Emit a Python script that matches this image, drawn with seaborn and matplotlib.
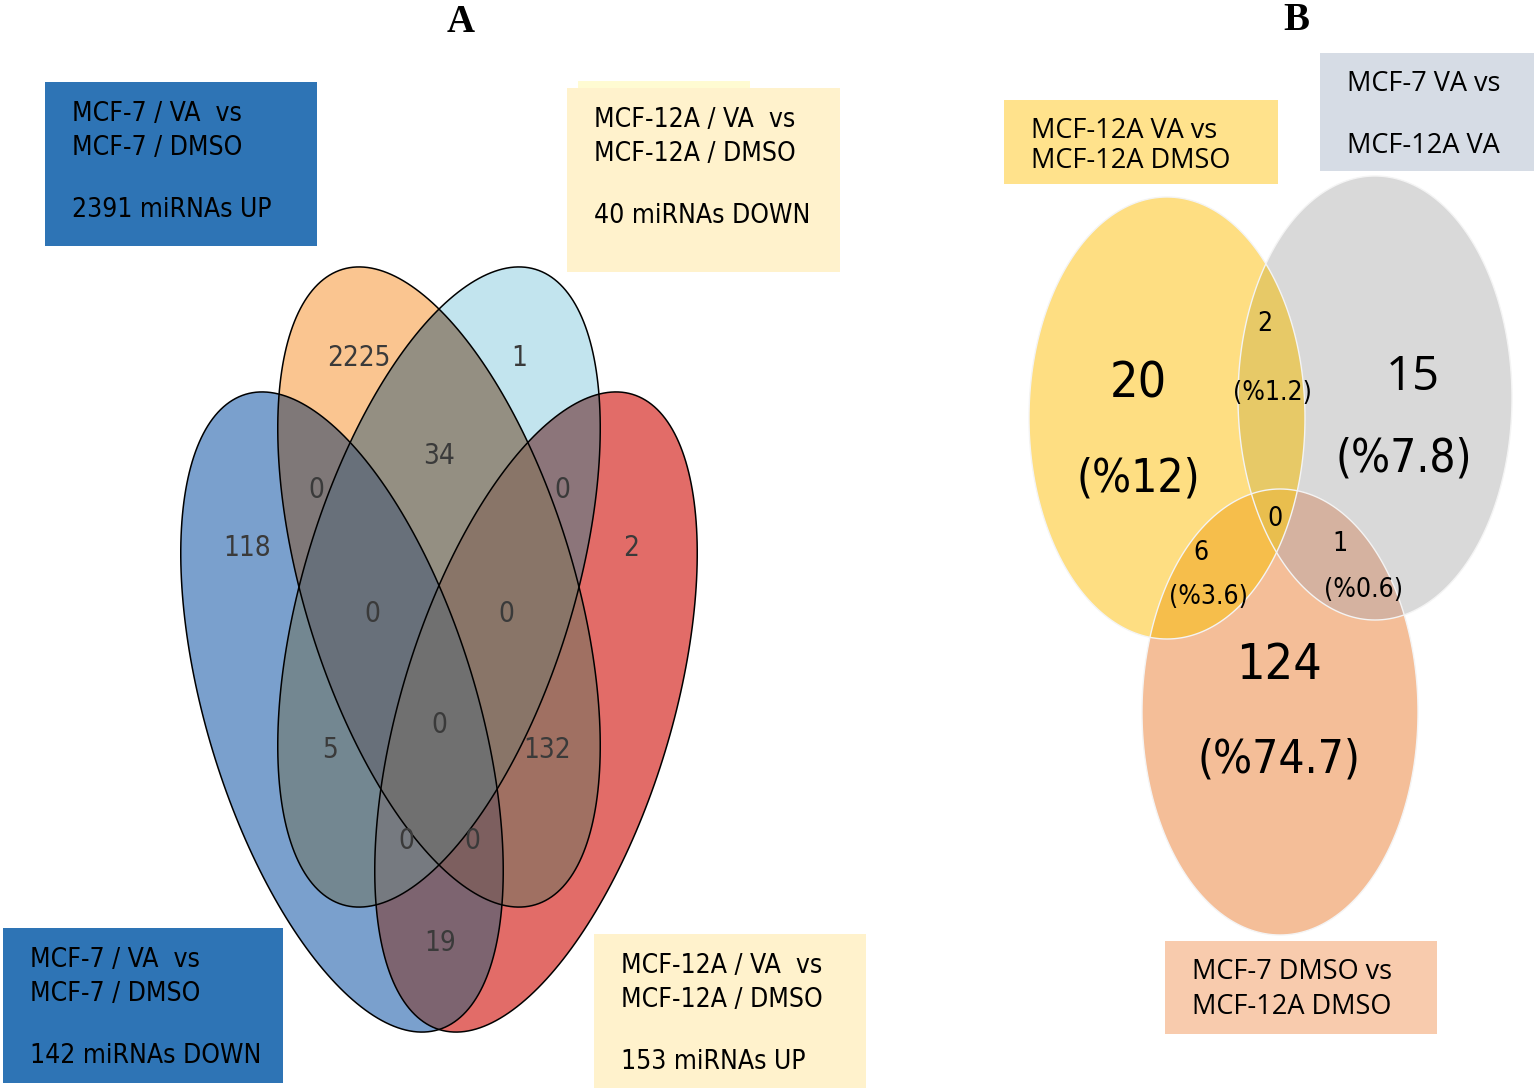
import numpy as np
import matplotlib
matplotlib.use('Agg')
import matplotlib.pyplot as plt
import seaborn as sns
from matplotlib.patches import Polygon, Rectangle
from itertools import combinations

# %% data

# panel A: four-set venn, region name -> count
venn_a_regions = ['B', 'C', 'BC', 'AB', 'CD', 'A', 'D', 'ABC', 'BCD',
                  'ABCD', 'AC', 'BD', 'ACD', 'ABD', 'AD']
venn_a_counts = [2225, 1, 34, 0, 0, 118, 2, 0, 0, 0, 5, 132, 0, 0, 19]

# set boxes for panel A
box_a_titles = ['MCF-7 / VA  vs\nMCF-7 / DMSO', 'MCF-12A / VA  vs\nMCF-12A / DMSO',
                'MCF-7 / VA  vs\nMCF-7 / DMSO', 'MCF-12A / VA  vs\nMCF-12A / DMSO']
box_a_counts = [2391, 40, 142, 153]
box_a_dir = ['UP', 'DOWN', 'DOWN', 'UP']

# panel B: three-set venn
venn_b_regions = ['Y', 'G', 'S', 'YG', 'YS', 'GS', 'YGS']
venn_b_counts = [20, 15, 124, 2, 6, 1, 0]
venn_b_pct = ['12', '7.8', '74.7', '1.2', '3.6', '0.6', None]
box_b_labels = ['MCF-12A VA vs\nMCF-12A DMSO', 'MCF-7 VA vs\n\nMCF-12A VA',
                'MCF-7 DMSO vs\nMCF-12A DMSO']

# %% style
sns.set_theme(style='white')
plt.rcParams['font.family'] = ['DejaVu Sans']
NARROW = dict(family='DejaVu Sans', fontstretch='condensed')
WIDE = dict(family=['Open Sans', 'DejaVu Sans'])


def ellipse_pts(cx, cy, p, q, ang, n=240):
    t = np.linspace(0, 2 * np.pi, n, endpoint=False)
    c, s = np.cos(np.radians(ang)), np.sin(np.radians(ang))
    x = cx + p * np.cos(t) * c - q * np.sin(t) * s
    y = cy + p * np.cos(t) * s + q * np.sin(t) * c
    return np.column_stack([x, y])


def clip_convex(subject, clip):
    # Sutherland-Hodgman, clip polygon is convex
    area = np.sum(clip[:, 0] * np.roll(clip[:, 1], -1) - np.roll(clip[:, 0], -1) * clip[:, 1])
    sign = 1 if area > 0 else -1
    out = list(subject)
    n = len(clip)
    for i in range(n):
        if not out:
            break
        a, b = clip[i], clip[(i + 1) % n]
        d = b - a

        def side(p):
            return sign * (d[0] * (p[1] - a[1]) - d[1] * (p[0] - a[0]))

        inp, out = out, []
        s = inp[-1]
        ss = side(s)
        for e in inp:
            se = side(e)
            if se >= 0:
                if ss < 0:
                    out.append(s + (e - s) * (ss / (ss - se)))
                out.append(e)
            elif ss >= 0:
                out.append(s + (e - s) * (ss / (ss - se)))
            s, ss = e, se
    return np.array(out)


def draw_venn(ax, shapes, colors, edge, lw):
    names = list(shapes.keys())
    for k in range(1, len(names) + 1):
        for combo in combinations(names, k):
            poly = shapes[combo[0]]
            for other in combo[1:]:
                poly = clip_convex(poly, shapes[other])
                if len(poly) < 3:
                    break
            if len(poly) >= 3:
                ax.add_patch(Polygon(poly, closed=True, facecolor=colors[''.join(combo)],
                                     edgecolor='none', lw=0, zorder=1))
    for nm in names:
        ax.add_patch(Polygon(shapes[nm], closed=True, fill=False, edgecolor=edge,
                             lw=lw, zorder=2))


fig = plt.figure(figsize=(15.34, 10.92), dpi=100)
ax = fig.add_axes([0, 0, 1, 1])
ax.set_xlim(0, 1534)
ax.set_ylim(1092, 0)
ax.axis('off')

# %% panel A
shapes_a = {
    'A': ellipse_pts(342, 712, 332, 135, 73.1),
    'B': ellipse_pts(439, 587, 332, 135, 73.1),
    'C': ellipse_pts(439, 587, 332, 135, 106.9),
    'D': ellipse_pts(536, 712, 332, 135, 106.9),
}
colors_a = {'A': '#7AA0CD', 'B': '#FAC590', 'C': '#C2E4EE', 'D': '#E26C68',
            'AB': '#7F7878', 'AC': '#738791', 'AD': '#7D6470', 'BC': '#948F82',
            'BD': '#A07062', 'CD': '#8C757A', 'ABC': '#68707A', 'ABD': '#7D5F5F',
            'ACD': '#767A80', 'BCD': '#897568', 'ABCD': '#707070'}
draw_venn(ax, shapes_a, colors_a, 'black', 1.1)

pos_a = {'B': (359, 358), 'C': (519, 358), 'BC': (439, 456), 'AB': (316, 490),
         'CD': (562, 490), 'A': (247, 548), 'D': (631, 548), 'ABC': (372, 614),
         'BCD': (506, 614), 'ABCD': (439, 725), 'AC': (330, 750), 'BD': (547, 750),
         'ACD': (406, 841), 'ABD': (472, 841), 'AD': (440, 943)}
for reg, cnt in zip(venn_a_regions, venn_a_counts):
    x, y = pos_a[reg]
    ax.text(x, y, str(cnt), ha='center', va='center', fontsize=20, color='#3A3A3A',
            zorder=3, **NARROW)

# boxes A
box_a_rect = [(45, 82, 272, 164), (567, 88, 273, 184), (3, 928, 280, 155), (594, 934, 272, 154)]
box_a_col = ['#2E74B5', '#FFF2CC', '#2E74B5', '#FFF2CC']
ax.add_patch(Rectangle((578, 81), 172, 8, facecolor='#FFFBD2', edgecolor='none'))
for (x, y, w, h), col, ttl, cnt, dr in zip(box_a_rect, box_a_col, box_a_titles,
                                           box_a_counts, box_a_dir):
    ax.add_patch(Rectangle((x, y), w, h, facecolor=col, edgecolor='none', zorder=1))
    line1, line2 = ttl.split('\n')
    ax.text(x + 27, y + 32, line1, ha='left', va='center', fontsize=19, color='black', **NARROW)
    ax.text(x + 27, y + 66, line2, ha='left', va='center', fontsize=19, color='black', **NARROW)
    ax.text(x + 27, y + 128, f'{cnt} miRNAs {dr}', ha='left', va='center',
            fontsize=19, color='black', **NARROW)

ax.text(461, 22, 'A', ha='center', va='center', fontsize=28, fontweight='bold',
        color='black', family=['Liberation Serif', 'DejaVu Serif'])

# %% panel B
shapes_b = {
    'Y': ellipse_pts(1167, 418, 138, 221, 0),
    'G': ellipse_pts(1375, 398, 137, 222, 0),
    'S': ellipse_pts(1280, 712, 138, 223, 0),
}
colors_b = {'Y': '#FEDE82', 'G': '#D9D9D9', 'S': '#F4BE98', 'YG': '#E7C967',
            'YS': '#F6BE4B', 'GS': '#D5B2A0', 'YGS': '#E9BE4E'}
draw_venn(ax, shapes_b, colors_b, '#F4F4F4', 1.0)

# label positions: (count xy, pct xy, count size, pct size)
pos_b = {'Y': ((1138, 383), (1138, 479), 36, 33), 'G': ((1413, 377), (1404, 459), 34, 33),
         'S': ((1279, 665), (1279, 760), 36, 33), 'YG': ((1265, 324), (1272, 393), 19, 19),
         'YS': ((1201, 553), (1208, 597), 19, 19), 'GS': ((1340, 544), (1363, 590), 19, 19),
         'YGS': ((1275, 519), None, 19, 19)}
for reg, cnt, pct in zip(venn_b_regions, venn_b_counts, venn_b_pct):
    (x1, y1), p2, fs1, fs2 = pos_b[reg]
    font = WIDE if reg == 'G' else NARROW
    ax.text(x1, y1, str(cnt), ha='center', va='center', fontsize=fs1,
            color='black', zorder=3, **font)
    if pct is not None:
        ax.text(p2[0], p2[1], f'(%{pct})', ha='center', va='center', fontsize=fs2,
                color='black', zorder=3, **NARROW)

box_b_rect = [(1004, 100, 274, 84), (1320, 53, 214, 118), (1165, 941, 272, 93)]
box_b_col = ['#FFE28C', '#D6DCE5', '#F8CBAD']
box_b_text_y = [(131, 161), (84, 146), (972, 1007)]
for (x, y, w, h), col, lab, ty in zip(box_b_rect, box_b_col, box_b_labels, box_b_text_y):
    ax.add_patch(Rectangle((x, y), w, h, facecolor=col, edgecolor='none', zorder=1))
    lines = [l for l in lab.split('\n') if l]
    for l, yy in zip(lines, ty):
        ax.text(x + 27, yy, l, ha='left', va='center', fontsize=19.5, color='black', **WIDE)

ax.text(1296, 20, 'B', ha='center', va='center', fontsize=28, fontweight='bold',
        color='black', family=['Liberation Serif', 'DejaVu Serif'])

fig.savefig('out.png', dpi=100)
